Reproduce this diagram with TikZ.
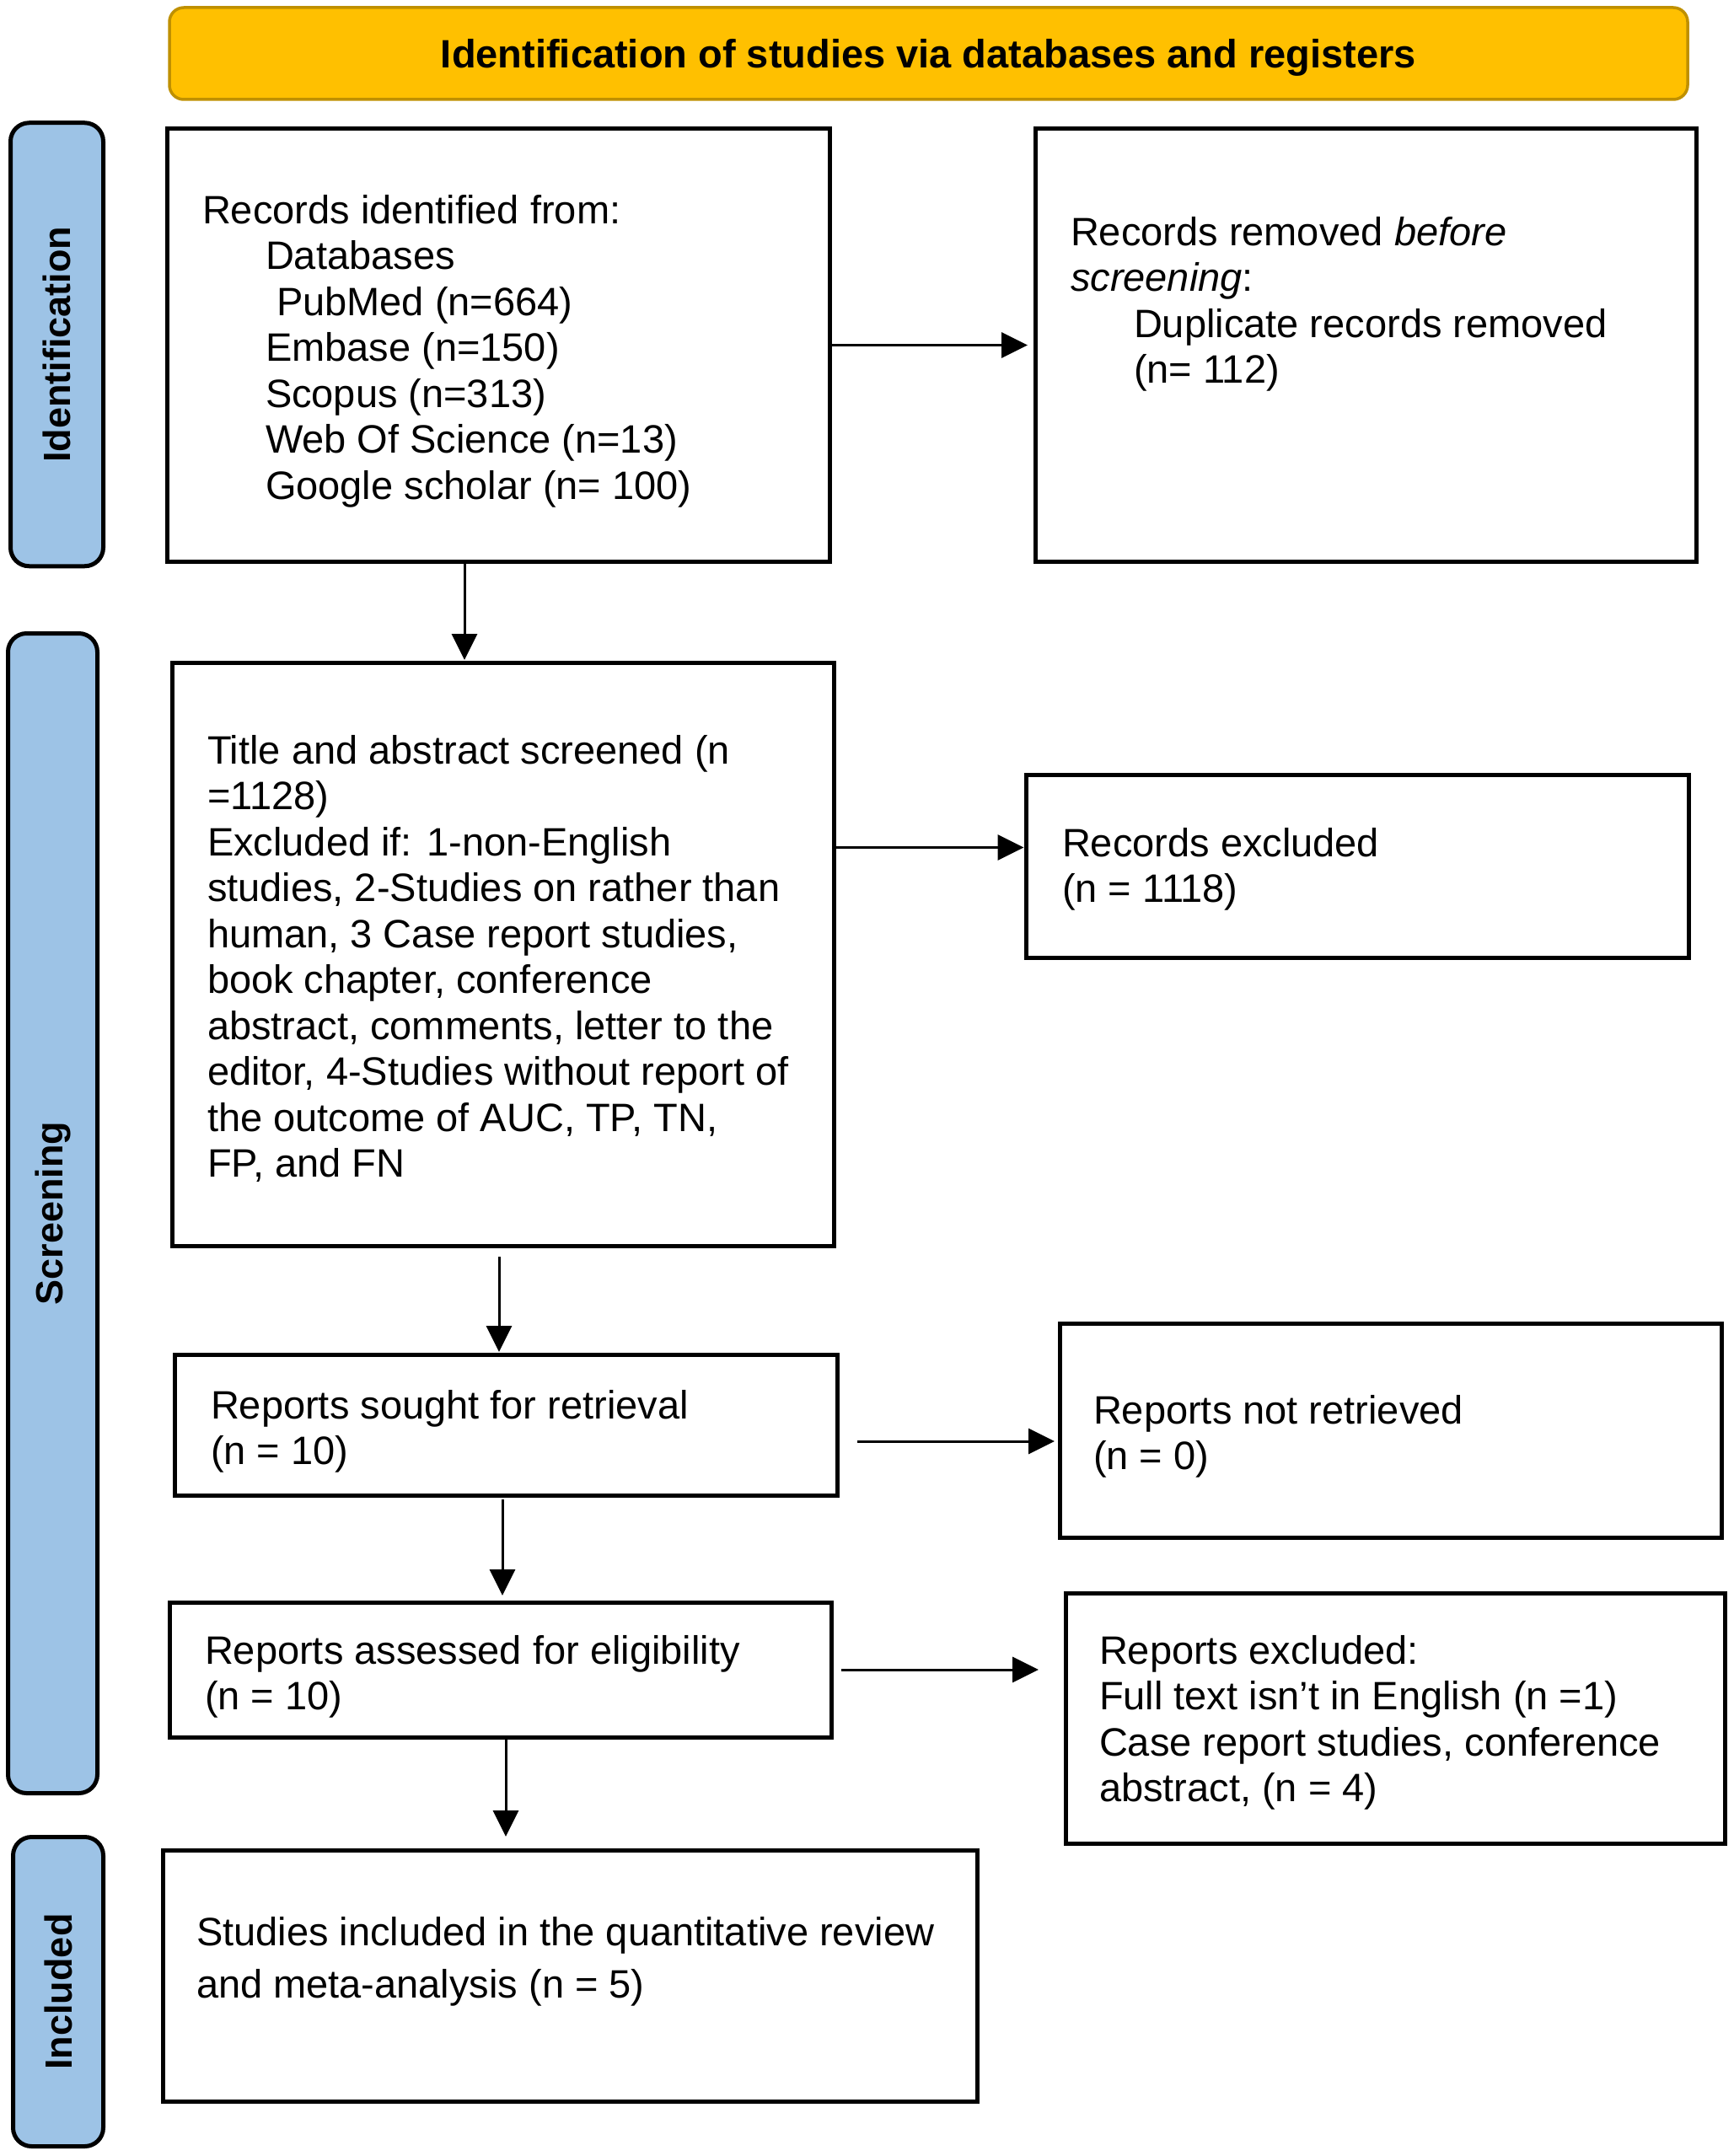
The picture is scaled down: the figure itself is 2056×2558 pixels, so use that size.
\documentclass[tikz,border=0pt]{standalone}
\usepackage{fontspec}
\setmainfont{Liberation Sans}
\usetikzlibrary{arrows.meta,calc}
\definecolor{hdrfill}{HTML}{FFC000}
\definecolor{hdrline}{HTML}{BF9000}
\definecolor{sidefill}{HTML}{9DC3E6}
\newcommand\txtfs{\fontsize{47pt}{54.5pt}\selectfont}
\newcommand\widefs{\fontsize{47pt}{62pt}\selectfont}
\newcommand\sidefs{\fontsize{45pt}{54pt}\selectfont\bfseries}
\newcommand\hdrfs{\fontsize{47pt}{55pt}\selectfont\bfseries}
\begin{document}
\begin{tikzpicture}[x=1pt,y=-1pt,
  box/.style={draw, line width=5pt, inner sep=0pt, outer sep=0pt},
  txt/.style={inner sep=0pt, outer sep=0pt, align=left, font=\txtfs, anchor=north west},
  side/.style={draw, line width=5pt, fill=sidefill, rounded corners=22pt, inner sep=0pt, outer sep=0pt, font=\sidefs},
  hdr/.style={draw=hdrline, line width=3.5pt, fill=hdrfill, rounded corners=17pt, inner sep=0pt, font=\hdrfs, text height=34pt, text depth=0pt},
  arr/.style={-{Triangle[length=31pt,width=30pt]}, line width=3pt},
]
\useasboundingbox (0,0) rectangle (2056,2558);

% header
\node[hdr, minimum width=1801pt, minimum height=109pt] (head) at (1101.5,63.5) {Identification of studies via databases and registers};

% side bars
\node[side, rotate=90, minimum width=526pt, minimum height=110pt] (sid) at (67.5,408.75) {Identification};
\node[side, rotate=90, minimum width=1376pt, minimum height=106pt] (sscr) at (62.5,1439.5) {Screening};
\node[side, rotate=90, minimum width=367pt, minimum height=107pt] (sinc) at (69,2363) {Included};

% boxes
\node[box, minimum width=786pt, minimum height=513pt] (b1) at (591,409.5) {};
\node[box, minimum width=784pt, minimum height=513pt] (b2) at (1620,409.5) {};
\node[box, minimum width=785pt, minimum height=692pt] (b3) at (596.5,1132) {};
\node[box, minimum width=786pt, minimum height=217pt] (b4) at (1610,1027.5) {};
\node[box, minimum width=786pt, minimum height=167pt] (b5) at (600,1690.5) {};
\node[box, minimum width=785pt, minimum height=254pt] (b6) at (1649.5,1697) {};
\node[box, minimum width=785pt, minimum height=160pt] (b7) at (593.5,1981) {};
\node[box, minimum width=782pt, minimum height=297pt] (b8) at (1655,2038.5) {};
\node[box, minimum width=966pt, minimum height=298pt] (b9) at (676,2344) {};

% texts
\node[txt] (t1) at ([xshift=42pt,yshift=-78pt]b1.north west) {Records identified from:\\
\hspace*{75pt}Databases\\
\hspace*{88pt}PubMed (n=664)\\
\hspace*{75pt}Embase (n=150)\\
\hspace*{75pt}Scopus (n=313)\\
\hspace*{75pt}Web Of Science (n=13)\\
\hspace*{75pt}Google scholar (n= 100)};
\node[txt] (t2) at ([xshift=42pt,yshift=-104pt]b2.north west) {Records removed \textit{before}\\
\textit{screening}:\\
\hspace*{75pt}Duplicate records removed\\
\hspace*{75pt}(n= 112)};
\node[txt] (t3) at ([xshift=42pt,yshift=-86pt]b3.north west) {Title and abstract screened (n\\
=1128)\\
Excluded if: 1-non-English\\
studies, 2-Studies on rather than\\
human, 3 Case report studies,\\
book chapter, conference\\
abstract, comments, letter to the\\
editor, 4-Studies without report of\\
the outcome of AUC, TP, TN,\\
FP, and FN};
\node[txt] (t4) at ([xshift=43pt,yshift=-63pt]b4.north west) {Records excluded\\
(n = 1118)};
\node[txt] (t5) at ([xshift=43pt,yshift=-42pt]b5.north west) {Reports sought for retrieval\\
(n = 10)};
\node[txt] (t6) at ([xshift=40pt,yshift=-85pt]b6.north west) {Reports not retrieved\\
(n = 0)};
\node[txt] (t7) at ([xshift=42pt,yshift=-39pt]b7.north west) {Reports assessed for eligibility\\
(n = 10)};
\node[txt] (t8) at ([xshift=40pt,yshift=-50pt]b8.north west) {Reports excluded:\\
Full text isn’t in English (n =1)\\
Case report studies, conference\\
abstract, (n = 4)};
\node[txt, font=\widefs] (t9) at ([xshift=40pt,yshift=-79pt]b9.north west) {Studies included in the quantitative review\\
and meta-analysis (n = 5)};

% horizontal connectors
\draw[arr, shorten <=3pt, shorten >=9pt] (b1.east) -- (b1.east -| b2.west);
\coordinate (p2) at ([yshift=22pt]b4.west);
\draw[arr, shorten >=2.5pt] (b3.east |- p2) -- (p2);
\coordinate (p3) at ([yshift=-13pt]b6.west);
\draw[arr, shorten <=24pt, shorten >=6pt] (b5.east |- p3) -- (p3);
\coordinate (p4) at (b8.west |- b7.east);
\draw[arr, shorten <=12pt, shorten >=32pt] (b7.east) -- (p4);

% vertical connectors
\coordinate (q1) at ([xshift=-40pt]b1.south);
\draw[arr, shorten <=3pt, shorten >=3pt] (q1) -- (q1 |- b3.north);
\coordinate (q2) at ([xshift=-4.5pt]b3.south);
\draw[arr, shorten <=13pt, shorten >=3pt] (q2) -- (q2 |- b5.north);
\coordinate (q3) at ([xshift=-4pt]b5.south);
\draw[arr, shorten <=5pt, shorten >=8pt] (q3) -- (q3 |- b7.north);
\coordinate (q4) at ([xshift=6.5pt]b7.south);
\draw[arr, shorten <=3pt, shorten >=16pt] (q4) -- (q4 |- b9.north);
\end{tikzpicture}
\end{document}
